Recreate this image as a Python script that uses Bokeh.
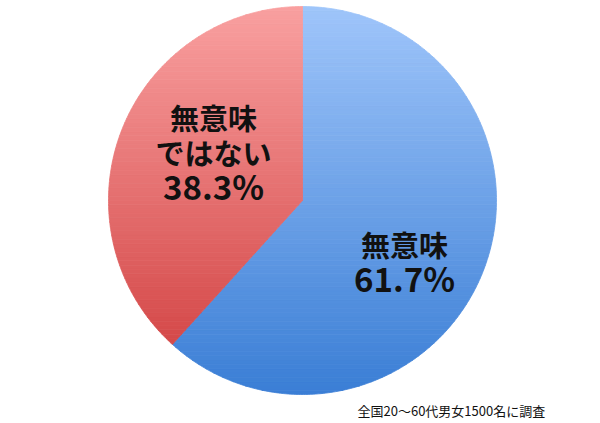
import numpy as np
from bokeh.plotting import figure
from bokeh.models import Range1d
from bokeh.core.properties import value
from bokeh.embed import file_html
from bokeh.resources import INLINE

# ---- data ----
categories = ["無意味", "無意味ではない"]
shares = [61.7, 38.3]
name_lines = [["無意味"], ["無意味", "ではない"]]
footnote = "全国20〜60代男女1500名に調査"

# ---- style ----
W, H = 600, 423
CX, CY, R = 302, H - 200, 194
top_colors = [(0x9f, 0xc5, 0xfa), (0xf9, 0xa0, 0xa0)]
bot_colors = [(0x3a, 0x7e, 0xd5), (0xcf, 0x3c, 0x3c)]
label_first = [(404, H - 243), (213, H - 116)]
LINE_STEP = 35
FONT = "Noto Sans CJK JP"

p = figure(width=W, height=H, output_backend="svg", toolbar_location=None,
           x_range=Range1d(0, W), y_range=Range1d(0, H), min_border=0)
p.axis.visible = False
p.grid.visible = False
p.outline_line_color = None
p.background_fill_color = "white"
p.border_fill_color = "white"

# slice angles: start at 12 o'clock, first slice clockwise, second takes the rest
total = sum(shares)
angles = []
a = np.pi / 2
for s in shares:
    sweep = 2 * np.pi * s / total
    angles.append((a - sweep, a))
    a = a - sweep


def wedge_poly(a0, a1, n=300):
    t = np.linspace(a0, a1, n)
    xs = np.concatenate([[CX], CX + R * np.cos(t)])
    ys = np.concatenate([[CY], CY + R * np.sin(t)])
    return list(zip(xs, ys))


def clip(poly, y, keep_above):
    out = []
    n = len(poly)
    for i in range(n):
        cur = poly[i]
        prv = poly[i - 1]
        cin = cur[1] >= y if keep_above else cur[1] <= y
        pin = prv[1] >= y if keep_above else prv[1] <= y
        if cin:
            if not pin:
                t = (y - prv[1]) / (cur[1] - prv[1])
                out.append((prv[0] + t * (cur[0] - prv[0]), y))
            out.append(cur)
        elif pin:
            t = (y - prv[1]) / (cur[1] - prv[1])
            out.append((prv[0] + t * (cur[0] - prv[0]), y))
    return out


NB = 90
edges = np.linspace(CY - R, CY + R, NB + 1)
for k, (a0, a1) in enumerate(angles):
    poly = wedge_poly(a0, a1)
    xs_list, ys_list, cols = [], [], []
    for j in range(NB):
        y0, y1 = edges[j], edges[j + 1]
        pc = clip(clip(poly, y0, True), y1, False)
        if len(pc) < 3:
            continue
        f = ((y0 + y1) / 2 - (CY - R)) / (2 * R)  # 0 bottom, 1 top
        c = tuple(int(round(bot_colors[k][i] + f * (top_colors[k][i] - bot_colors[k][i]))) for i in range(3))
        col = "#%02x%02x%02x" % c
        xs_list.append([q[0] for q in pc])
        ys_list.append([q[1] for q in pc])
        cols.append(col)
    p.patches(xs_list, ys_list, fill_color=cols, line_color=cols, line_width=0.8)

for k, lines in enumerate(name_lines):
    lx, ly = label_first[k]
    xs = [lx] * len(lines)
    ys = [ly - i * LINE_STEP for i in range(len(lines))]
    p.text(x=xs, y=ys, text=lines, text_font=value(FONT), text_font_style="bold",
           text_font_size="29px", text_align="center", text_baseline="middle",
           text_color="#111111")
    p.text(x=[lx], y=[ly - len(lines) * LINE_STEP + 1], text=["%.1f%%" % shares[k]],
           text_font=value(FONT), text_font_style="bold",
           text_font_size="33px", text_align="center", text_baseline="middle",
           text_color="#111111")

p.text(x=[357], y=[H - 410], text=[footnote], text_font=value(FONT),
       text_font_size="13px", text_align="left", text_baseline="middle",
       text_color="#111111")

open("out.html", "w").write(file_html(p, INLINE))
